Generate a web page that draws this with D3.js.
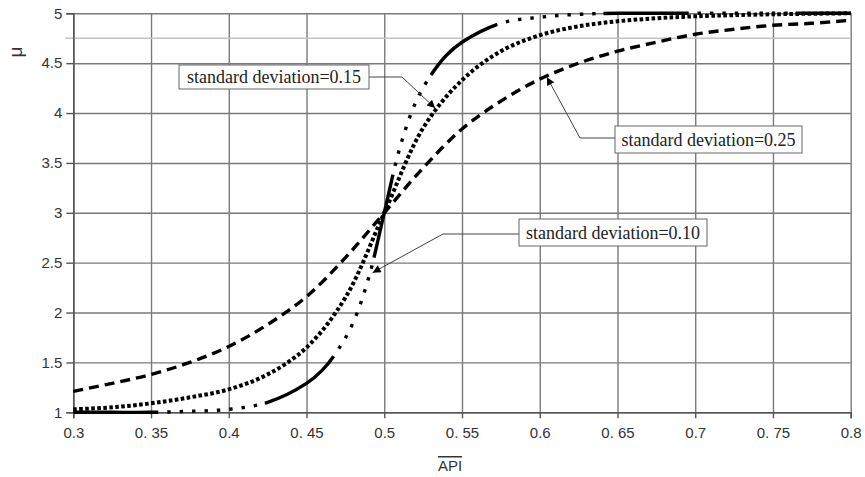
<!DOCTYPE html>
<html>
<head>
<meta charset="utf-8">
<script src="https://cdn.jsdelivr.net/npm/d3@7"></script>
<style>
body { margin: 0; background: #fff; }
svg { display: block; }
</style>
</head>
<body>
<div id="chart"></div>
<script>
// values
var xTicks = [0.3, 0.35, 0.4, 0.45, 0.5, 0.55, 0.6, 0.65, 0.7, 0.75, 0.8];
var xTickLabels = ['0.3', '0. 35', '0.4', '0. 45', '0.5', '0. 55', '0.6', '0. 65', '0.7', '0. 75', '0.8'];
var yTicks = [1, 1.5, 2, 2.5, 3, 3.5, 4, 4.5, 5];
var yTickLabels = ['1', '1.5', '2', '2.5', '3', '3.5', '4', '4.5', '5'];
var refLine = 4.75;

var x25 = [0.3, 0.325, 0.35, 0.375, 0.4, 0.425, 0.45, 0.475, 0.5, 0.525, 0.55, 0.575, 0.6, 0.625, 0.65, 0.675, 0.7, 0.725, 0.75, 0.775, 0.8];
var y25 = [1.21, 1.29, 1.38, 1.50, 1.66, 1.88, 2.16, 2.55, 3.00, 3.45, 3.84, 4.12, 4.34, 4.50, 4.62, 4.71, 4.79, 4.84, 4.88, 4.90, 4.93];

var x15 = [0.3, 0.325, 0.35, 0.375, 0.4, 0.425, 0.45, 0.475, 0.5, 0.525, 0.55, 0.575, 0.6, 0.625, 0.65, 0.675, 0.7, 0.75, 0.8];
var y15 = [1.03, 1.05, 1.09, 1.15, 1.23, 1.38, 1.65, 2.15, 3.00, 3.85, 4.33, 4.62, 4.78, 4.87, 4.92, 4.95, 4.97, 4.99, 5.00];

var x10 = [0.3, 0.325, 0.35, 0.375, 0.4, 0.425, 0.45, 0.46, 0.47, 0.48, 0.49, 0.5, 0.51, 0.52, 0.53, 0.54, 0.55, 0.575, 0.6, 0.625, 0.65, 0.7, 0.75, 0.8];
var y10 = [1.00, 1.00, 1.00, 1.01, 1.03, 1.10, 1.29, 1.42, 1.62, 1.90, 2.35, 3.00, 3.65, 4.10, 4.38, 4.58, 4.71, 4.90, 4.96, 4.99, 5.00, 5.00, 5.00, 5.00];

var labels = ['standard deviation=0.15', 'standard deviation=0.25', 'standard deviation=0.10'];

var width = 865, height = 477;
var margin = {left: 73.3, right: 14.3, top: 13.3, bottom: 64.7};

var svg = d3.select('#chart').append('svg')
	.attr('width', width)
	.attr('height', height);

var x = d3.scaleLinear().domain([0.3, 0.8]).range([margin.left, width - margin.right]);
var y = d3.scaleLinear().domain([1, 5]).range([height - margin.bottom, margin.top]);

// grid
svg.append('g')
	.attr('transform', 'translate(0,' + y(1) + ')')
	.call(d3.axisBottom(x).tickValues(xTicks).tickSize(-(y(1) - y(5))).tickFormat(''))
	.call(function(g){
		g.select('.domain').remove();
		g.selectAll('line').attr('stroke', '#7a7a7a').attr('stroke-width', 1.4);
	});
svg.append('g')
	.attr('transform', 'translate(' + x(0.3) + ',0)')
	.call(d3.axisLeft(y).tickValues(yTicks).tickSize(-(x(0.8) - x(0.3))).tickFormat(''))
	.call(function(g){
		g.select('.domain').remove();
		g.selectAll('line').attr('stroke', '#7a7a7a').attr('stroke-width', 1.4);
	});

// light reference line
svg.append('line')
	.attr('x1', x(0.3) - 8).attr('x2', x(0.8))
	.attr('y1', y(refLine)).attr('y2', y(refLine))
	.attr('stroke', '#c4c4c4').attr('stroke-width', 1.4);

// axes
var xAxis = svg.append('g')
	.attr('transform', 'translate(0,' + y(1) + ')')
	.call(d3.axisBottom(x).tickValues(xTicks).tickSize(6).tickPadding(9)
		.tickFormat(function(d, i){ return xTickLabels[i]; }));
var yAxis = svg.append('g')
	.attr('transform', 'translate(' + x(0.3) + ',0)')
	.call(d3.axisLeft(y).tickValues(yTicks).tickSize(7).tickPadding(4)
		.tickFormat(function(d, i){ return yTickLabels[i]; }));

[xAxis, yAxis].forEach(function(g){
	g.select('.domain').attr('stroke', '#555').attr('stroke-width', 1.6);
	g.selectAll('.tick line').attr('stroke', '#555').attr('stroke-width', 1.4);
	g.selectAll('.tick text')
		.attr('fill', '#333')
		.style('font-family', 'Liberation Sans, Arial, sans-serif')
		.style('font-size', '15px');
});

// axis titles
svg.append('text')
	.attr('x', 450).attr('y', 471)
	.attr('text-anchor', 'middle')
	.style('font-family', 'Liberation Sans, Arial, sans-serif')
	.style('font-size', '15px')
	.style('text-decoration', 'overline')
	.attr('fill', '#333')
	.text('API');
svg.append('text')
	.attr('transform', 'translate(22,52) rotate(-90)')
	.attr('text-anchor', 'middle')
	.style('font-family', 'Liberation Sans, Arial, sans-serif')
	.style('font-size', '19px')
	.attr('fill', '#333')
	.text('μ');

// curves
var line = d3.line()
	.x(function(d){ return x(d[0]); })
	.y(function(d){ return y(d[1]); })
	.curve(d3.curveCatmullRom.alpha(0.5));

svg.append('path')
	.datum(d3.zip(x25, y25))
	.attr('d', line)
	.attr('fill', 'none').attr('stroke', '#000')
	.attr('stroke-width', 3.4)
	.attr('stroke-dasharray', '10,6');

svg.append('path')
	.datum(d3.zip(x15, y15))
	.attr('d', line)
	.attr('fill', 'none').attr('stroke', '#000')
	.attr('stroke-width', 4)
	.attr('stroke-dasharray', '3.6,2.4');

svg.append('path')
	.datum(d3.zip(x10, y10))
	.attr('d', line)
	.attr('fill', 'none').attr('stroke', '#000')
	.attr('stroke-width', 3.4)
	.attr('stroke-dasharray', '85,9,3.4,9,3.4,9,3.4,9,3.4,9,3.4,9,3.4,9,3.4,9,3.4,8');

// annotations
var defs = svg.append('defs');
defs.append('marker')
	.attr('id', 'arrow')
	.attr('viewBox', '0 0 10 10')
	.attr('refX', 10).attr('refY', 5)
	.attr('markerWidth', 12).attr('markerHeight', 8)
	.attr('markerUnits', 'userSpaceOnUse')
	.attr('orient', 'auto')
	.append('path').attr('d', 'M0,0L10,5L0,10Z').attr('fill', '#000');

function note(label, bx, by, bw, bh, pts){
	svg.append('path')
		.attr('d', d3.line()(pts))
		.attr('fill', 'none').attr('stroke', '#444').attr('stroke-width', 1)
		.attr('marker-end', 'url(#arrow)');
	svg.append('rect')
		.attr('x', bx).attr('y', by).attr('width', bw).attr('height', bh)
		.attr('fill', '#fff').attr('stroke', '#666').attr('stroke-width', 1);
	svg.append('text')
		.attr('x', bx + bw / 2).attr('y', by + bh / 2 + 6)
		.attr('text-anchor', 'middle')
		.style('font-family', 'Liberation Serif, Times New Roman, serif')
		.style('font-size', '18px')
		.attr('fill', '#222')
		.text(label);
}

note(labels[0], 179, 65, 190, 24, [[369, 77], [402, 77], [x(0.5327), y(4.05)]]);
note(labels[1], 615, 126, 187, 27, [[615, 138], [580, 138], [x(0.6046), y(4.36)]]);
note(labels[2], 519, 219, 188, 27, [[519, 234], [443, 234], [x(0.4925), y(2.40)]]);
</script>
</body>
</html>
